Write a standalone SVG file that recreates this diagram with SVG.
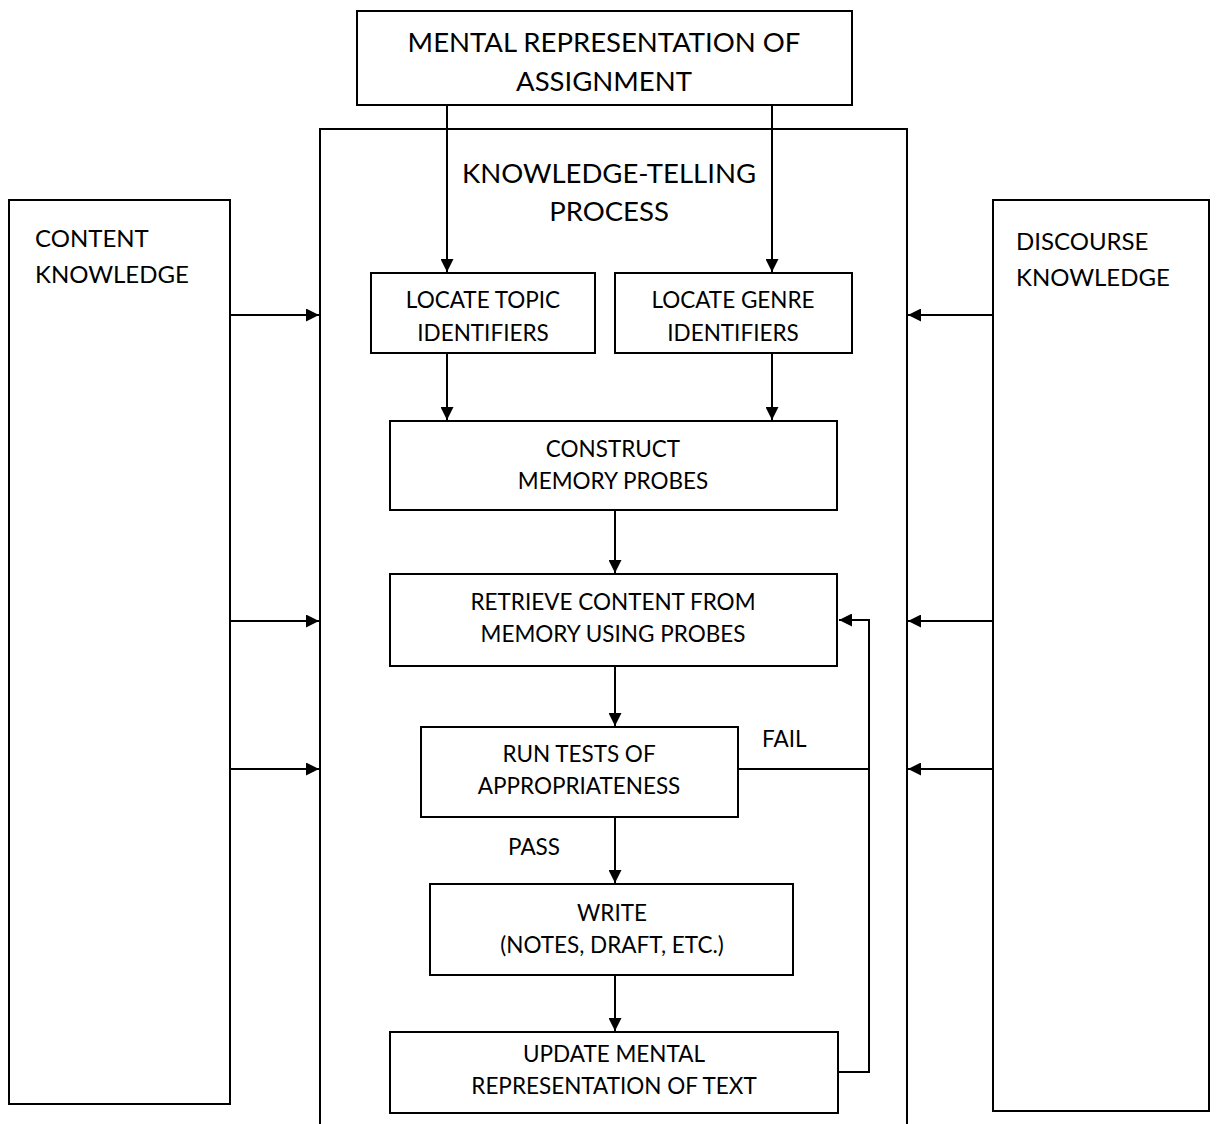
<svg xmlns="http://www.w3.org/2000/svg" width="1216" height="1124" viewBox="0 0 1216 1124">
  <style>
    .box { fill: #fff; stroke: #000; stroke-width: 2; }
    .line { fill: none; stroke: #000; stroke-width: 2; }
    text { font-family: Lato, "Liberation Sans", sans-serif; fill: #000; }
    .big { font-size: 27.5px; text-anchor: middle; }
    .side { font-size: 24px; }
    .node { font-size: 22.5px; text-anchor: middle; }
    .lbl { font-size: 22.5px; }
  </style>
  <defs>
    <marker id="arrow" viewBox="0 0 10 10" refX="10" refY="5" markerWidth="15" markerHeight="13" markerUnits="userSpaceOnUse" orient="auto">
      <path d="M0,0 L10,5 L0,10 z" fill="#000"/>
    </marker>
  </defs>
  <rect width="1216" height="1124" fill="#fff"/>

  <!-- outer process frame, open at the bottom -->
  <g id="process-frame">
    <path class="line" d="M320,1124 V129 H907 V1124"/>
    <text class="big" x="609" y="183">KNOWLEDGE-TELLING</text>
    <text class="big" x="609" y="221">PROCESS</text>
  </g>

  <g id="assignment">
    <rect class="box" x="357" y="11" width="495" height="94"/>
    <text class="big" x="604" y="52">MENTAL REPRESENTATION OF</text>
    <text class="big" x="604" y="91">ASSIGNMENT</text>
  </g>

  <g id="content-knowledge">
    <rect class="box" x="9" y="200" width="221" height="904"/>
    <text class="side" x="35" y="247">CONTENT</text>
    <text class="side" x="35" y="283">KNOWLEDGE</text>
  </g>

  <g id="discourse-knowledge">
    <rect class="box" x="993" y="200" width="216" height="911"/>
    <text class="side" x="1016" y="250">DISCOURSE</text>
    <text class="side" x="1016" y="286">KNOWLEDGE</text>
  </g>

  <g id="locate-topic">
    <rect class="box" x="371" y="273" width="224" height="80"/>
    <text class="node" x="483" y="308">LOCATE TOPIC</text>
    <text class="node" x="483" y="341">IDENTIFIERS</text>
  </g>

  <g id="locate-genre">
    <rect class="box" x="615" y="273" width="237" height="80"/>
    <text class="node" x="733" y="308">LOCATE GENRE</text>
    <text class="node" x="733" y="341">IDENTIFIERS</text>
  </g>

  <g id="construct-probes">
    <rect class="box" x="390" y="421" width="447" height="89"/>
    <text class="node" x="613" y="457">CONSTRUCT</text>
    <text class="node" x="613" y="489">MEMORY PROBES</text>
  </g>

  <g id="retrieve-content">
    <rect class="box" x="390" y="574" width="447" height="92"/>
    <text class="node" x="613" y="610">RETRIEVE CONTENT FROM</text>
    <text class="node" x="613" y="642">MEMORY USING PROBES</text>
  </g>

  <g id="run-tests">
    <rect class="box" x="421" y="727" width="317" height="90"/>
    <text class="node" x="579" y="762">RUN TESTS OF</text>
    <text class="node" x="579" y="794">APPROPRIATENESS</text>
  </g>

  <g id="write">
    <rect class="box" x="430" y="884" width="363" height="91"/>
    <text class="node" x="612" y="921">WRITE</text>
    <text class="node" x="612" y="953">(NOTES, DRAFT, ETC.)</text>
  </g>

  <g id="update-text">
    <rect class="box" x="390" y="1032" width="448" height="81"/>
    <text class="node" x="614" y="1062">UPDATE MENTAL</text>
    <text class="node" x="614" y="1094">REPRESENTATION OF TEXT</text>
  </g>

  <g id="connectors">
    <!-- assignment feeds both locate steps -->
    <line class="line" x1="447" y1="105" x2="447" y2="272" marker-end="url(#arrow)"/>
    <line class="line" x1="772" y1="105" x2="772" y2="272" marker-end="url(#arrow)"/>
    <!-- locate steps to probe construction -->
    <line class="line" x1="447" y1="353" x2="447" y2="420" marker-end="url(#arrow)"/>
    <line class="line" x1="772" y1="353" x2="772" y2="420" marker-end="url(#arrow)"/>
    <!-- main sequence -->
    <line class="line" x1="615" y1="510" x2="615" y2="573" marker-end="url(#arrow)"/>
    <line class="line" x1="615" y1="666" x2="615" y2="726" marker-end="url(#arrow)"/>
    <line class="line" x1="615" y1="817" x2="615" y2="883" marker-end="url(#arrow)"/>
    <line class="line" x1="615" y1="975" x2="615" y2="1031" marker-end="url(#arrow)"/>
    <!-- fail / update loop back to retrieval -->
    <path class="line" d="M838,1072 H869 V620 H839" marker-end="url(#arrow)"/>
    <line class="line" x1="738" y1="769" x2="869" y2="769"/>
    <text class="lbl" x="762" y="747">FAIL</text>
    <text class="lbl" x="508" y="855">PASS</text>
    <!-- content knowledge inputs -->
    <line class="line" x1="230" y1="315" x2="319" y2="315" marker-end="url(#arrow)"/>
    <line class="line" x1="230" y1="621" x2="319" y2="621" marker-end="url(#arrow)"/>
    <line class="line" x1="230" y1="769" x2="319" y2="769" marker-end="url(#arrow)"/>
    <!-- discourse knowledge inputs -->
    <line class="line" x1="993" y1="315" x2="908" y2="315" marker-end="url(#arrow)"/>
    <line class="line" x1="993" y1="621" x2="908" y2="621" marker-end="url(#arrow)"/>
    <line class="line" x1="993" y1="769" x2="908" y2="769" marker-end="url(#arrow)"/>
  </g>
</svg>
